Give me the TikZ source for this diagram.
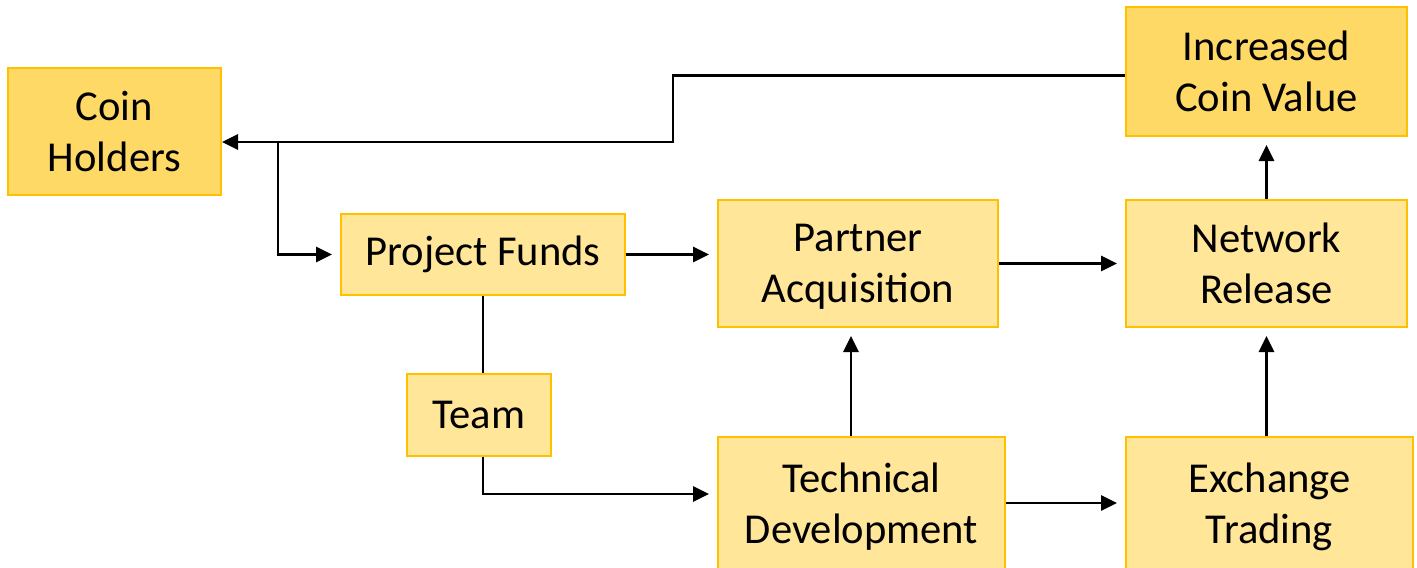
\documentclass[tikz,border=0pt]{standalone}
\usepackage{fontspec}
\setmainfont{Carlito}
\usetikzlibrary{arrows.meta}
\definecolor{gold}{HTML}{FFD966}
\definecolor{lightgold}{HTML}{FFE699}
\definecolor{edgegold}{HTML}{FFC000}
\begin{document}
\begin{tikzpicture}[x=0.5pt,y=-0.5pt,
  box/.style={draw=edgegold,line width=1pt,fill=lightgold,align=center,inner sep=0pt,font=\fontsize{21.3}{25.5}\selectfont},
  hot/.style={box,fill=gold},
  conn/.style={line width=1.4pt,-{Triangle[length=8pt,width=7.5pt]},shorten >=4pt},
  plain/.style={line width=1.4pt}]
\clip (0,0) rectangle (1417,567);
\fill[white] (0,0) rectangle (1417,567);

\node[hot,minimum width=106.5pt,minimum height=63.5pt] (coin) at (114.5,131.5) {Coin\\Holders};
\node[hot,minimum width=140.5pt,minimum height=64.5pt] (inc) at (1266.5,71.5) {Increased\\Coin Value};
\node[box,minimum width=142pt,minimum height=40.5pt] (pf) at (483,254.5) {Project Funds};
\node[box,minimum width=140pt,minimum height=63.5pt] (pa) at (858,263.5) {Partner\\Ac\smash{q}uisition};
\node[box,minimum width=140.5pt,minimum height=63.5pt] (nr) at (1266.5,263.5) {Network\\Release};
\node[box,minimum width=72pt,minimum height=41pt] (team) at (479,415) {Team};
\node[box,minimum width=143.5pt,minimum height=66pt] (td) at (861.5,503) {Technical\\Develo\smash{p}ment};
\node[box,minimum width=143.5pt,minimum height=66pt] (et) at (1269.5,503) {Exchange\\Tradin\smash{g}};

\coordinate (c2) at (673,142);
\coordinate (j) at (278,142);
\coordinate (t) at (483,494);
\coordinate (v1) at (851,0);

\draw[conn,shorten >=0pt] ([yshift=-2pt]inc.west) -| (c2) -- (coin.east |- c2);
\draw[conn] (j) |- (pf.west);
\draw[conn] (pf.east) -- (pa.west |- pf.east);
\draw[plain] (pf.south) -- (pf.south |- team.north);
\draw[conn] (pf.south |- team.south) |- (td.west |- t);
\draw[conn] (pa.east) -- (nr.west |- pa.east);
\draw[conn] (nr.north) -- (inc.south);
\draw[conn] (td.north -| v1) -- (pa.south -| v1);
\draw[conn] (td.east) -- (et.west |- td.east);
\draw[conn] (et.north -| nr.north) -- (nr.south);
\end{tikzpicture}
\end{document}
